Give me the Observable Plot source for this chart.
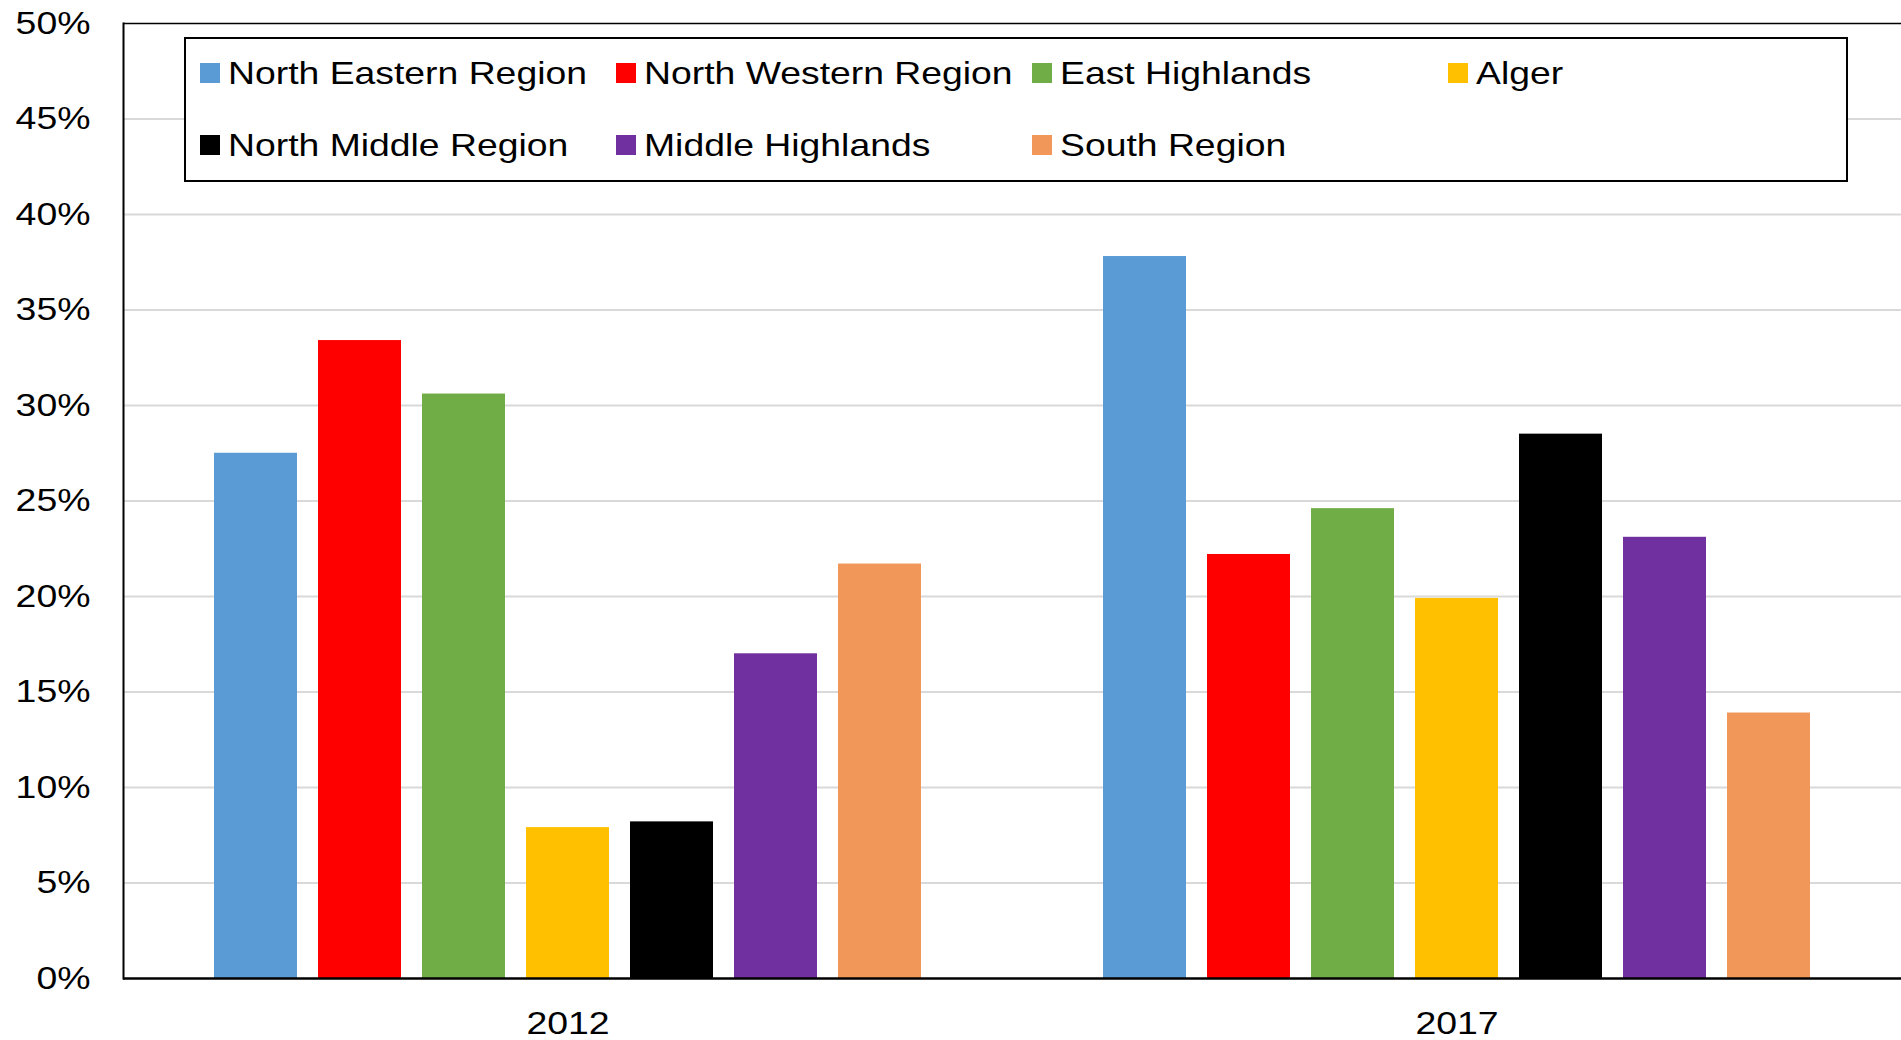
<!DOCTYPE html>
<html>
<head>
<meta charset="utf-8">
<script src="https://cdn.jsdelivr.net/npm/d3@7"></script>
<script src="https://cdn.jsdelivr.net/npm/@observablehq/plot@0.6"></script>
<style>
  html, body { margin: 0; padding: 0; background: #fff; }
  body { width: 1901px; height: 1040px; position: relative; overflow: hidden; font-family: "Liberation Sans", Arial, sans-serif; }
  #chart { position: absolute; left: 0; top: 0; }
  #legend {
    position: absolute; left: 184px; top: 36.5px; width: 1664px; height: 145.5px;
    box-sizing: border-box; border: 2px solid #000; background: #fff;
  }
  #legend-grid {
    position: absolute; left: 200px; top: 37.3px;
    display: grid; grid-template-columns: repeat(4, 416px); grid-auto-rows: 72px;
  }
  .item { display: flex; align-items: center; height: 72px; }
  .sw { width: 20px; height: 20px; flex: none; }
  .lab { margin-left: 8px; font-size: 31.5px; line-height: 1; color: #000; white-space: nowrap;
         transform: scaleX(1.185); transform-origin: left center; }
</style>
</head>
<body>
<div id="chart"></div>
<div id="legend"></div>
<div id="legend-grid"></div>
<script>
// ---- Data ----
const years = ["2012", "2017"];
const regions = [
  "North Eastern Region", "North Western Region", "East Highlands", "Alger",
  "North Middle Region", "Middle Highlands", "South Region"
];
const colors = ["#5B9BD5", "#FF0000", "#70AD47", "#FFC000", "#000000", "#7030A0", "#F1975A"];
const values2012 = [0.275, 0.334, 0.306, 0.079, 0.082, 0.170, 0.217];
const values2017 = [0.378, 0.222, 0.246, 0.199, 0.285, 0.231, 0.139];
const yTicks = [0, 0.05, 0.10, 0.15, 0.20, 0.25, 0.30, 0.35, 0.40, 0.45, 0.50];
const gridTicks = [0.05, 0.10, 0.15, 0.20, 0.25, 0.30, 0.35, 0.40, 0.45];

const data = [];
regions.forEach((r, i) => data.push({year: years[0], region: r, value: values2012[i]}));
regions.forEach((r, i) => data.push({year: years[1], region: r, value: values2017[i]}));

const chart = Plot.plot({
  width: 1901,
  height: 1040,
  marginTop: 23,
  marginBottom: 62,
  marginLeft: 123,
  marginRight: 0,
  style: {fontFamily: "'Liberation Sans', Arial, sans-serif", color: "#000", background: "#fff"},
  fx: {domain: years, padding: 0, label: null},
  x: {domain: regions, paddingInner: 0.2, paddingOuter: 0.854, axis: null},
  y: {domain: [0, 0.5], axis: null},
  color: {domain: regions, range: colors},
  marks: [
    Plot.ruleY(gridTicks, {stroke: "#d9d9d9", strokeWidth: 2}),
    Plot.barY(data, {fx: "year", x: "region", y: "value", fill: "region"}),
    Plot.ruleY([0], {stroke: "#000", strokeWidth: 2.5}),
    Plot.ruleY([0.5], {stroke: "#000", strokeWidth: 1.5}),
    Plot.frame({anchor: "left", facet: "super", stroke: "#000", strokeWidth: 2}),
    Plot.axisY(yTicks, {anchor: "left", tickSize: 0, tickPadding: 33, fontSize: 32,
      tickFormat: d3.format(".0%"), label: null}),
    Plot.axisFx({anchor: "bottom", tickSize: 0, tickPadding: 33, fontSize: 32, label: null})
  ]
});
document.getElementById("chart").appendChild(chart);

// Horizontally widen axis text to match the reference's proportions
d3.select(chart).selectAll("text").each(function() {
  const t = this.getAttribute("transform") || "";
  this.setAttribute("transform", t + " scale(1.17,1)");
});

// ---- Legend ----
const grid = d3.select("#legend-grid");
regions.forEach((r, i) => {
  const it = grid.append("div").attr("class", "item");
  it.append("div").attr("class", "sw").style("background", colors[i]);
  it.append("div").attr("class", "lab").text(r);
});
</script>
</body>
</html>
